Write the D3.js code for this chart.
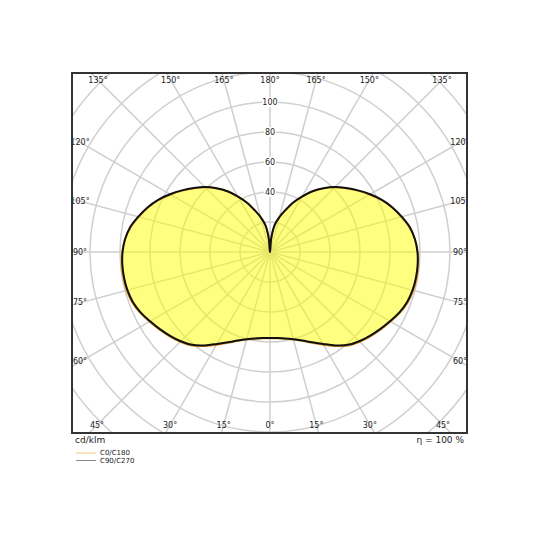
<!DOCTYPE html>
<html>
<head>
<meta charset="utf-8">
<script src="https://cdn.jsdelivr.net/npm/d3@7"></script>
<style>
  body { margin: 0; background: #fff; }
  text { font-family: "DejaVu Sans", sans-serif; }
</style>
</head>
<body>
<svg id="chart" width="540" height="540"></svg>
<script>
// Gamma angles (0 = straight down, 180 = straight up), degrees
const gammaAngles = [0, 5, 10, 15, 20, 25, 30, 35, 40, 45, 50, 55, 60, 65, 70, 75, 80, 85, 90,
  95, 100, 105, 110, 115, 120, 125, 130, 135, 140, 145, 150, 155, 160, 165, 170, 175, 180];

// Luminous intensity, cd/klm
const c0c180 = [57.5, 57.8, 58.8, 60.5, 63.2, 66.9, 71.4, 76.6, 81.4, 84.7, 87.5, 90.2, 92.9, 95.8, 97.9, 99, 99.4, 99.3, 98.6,
  97, 94.3, 90.5, 86.5, 81.9, 76.6, 71.2, 66, 61, 55.4, 49.4, 42.7, 36.3, 29.5, 24, 18.5, 9, 0];
const c90c270 = [57.3, 57.6, 58.5, 60.2, 62.8, 66.4, 70.8, 76, 80.8, 84.1, 86.9, 89.6, 92.3, 95.2, 97.3, 98.4, 98.8, 98.8, 98.3,
  97, 94.7, 90.9, 86.9, 82.3, 77, 71.6, 66.3, 61.2, 55.5, 49.4, 42.7, 36.3, 29.5, 24, 18.5, 9, 0];

// Grid
const ringValues = [20, 40, 60, 80, 100, 120, 140, 160, 180];
const ringLabels = [40, 60, 80, 100];
const spokeTicks = [0, 15, 30, 45, 60, 75, 90, 105, 120, 135, 150, 165, 180];

const seriesNames = ["C0/C180", "C90/C270"];
const unitLabel = "cd/klm";
const efficiencyLabel = "η = 100 %";

const svg = d3.select("#chart");

// plot box
const box = { left: 72, top: 73, right: 467, bottom: 433 };
const cx = 270, cy = 252;

const r = d3.scaleLinear().domain([0, 100]).range([0, 150]);

svg.append("defs").append("clipPath")
  .attr("id", "boxclip")
  .append("rect")
  .attr("x", box.left).attr("y", box.top)
  .attr("width", box.right - box.left).attr("height", box.bottom - box.top);

const plot = svg.append("g").attr("clip-path", "url(#boxclip)");
const g = plot.append("g").attr("transform", `translate(${cx},${cy})`);

// rings
g.selectAll("circle.ring")
  .data(ringValues)
  .enter().append("circle")
  .attr("class", "ring")
  .attr("r", d => r(d))
  .attr("fill", "none")
  .attr("stroke", "#cfcfcf")
  .attr("stroke-width", 1.5);

// spokes, both sides
const spokes = [];
spokeTicks.forEach(t => {
  spokes.push({ t, side: 1 });
  if (t !== 0 && t !== 180) spokes.push({ t, side: -1 });
});
const rad = Math.PI / 180;

g.selectAll("line.spoke")
  .data(spokes)
  .enter().append("line")
  .attr("class", "spoke")
  .attr("x1", 0).attr("y1", 0)
  .attr("x2", d => d.side * Math.sin(d.t * rad) * r(200))
  .attr("y2", d => Math.cos(d.t * rad) * r(200))
  .attr("stroke", "#cfcfcf")
  .attr("stroke-width", 1.5);

// curve: right half gamma 0..180, left half 175..5
function curvePoints(values) {
  const pts = gammaAngles.map((gm, i) => [Math.PI - gm * rad, r(values[i])]);
  for (let i = gammaAngles.length - 2; i >= 1; i--) {
    pts.push([Math.PI + gammaAngles[i] * rad, r(values[i])]);
  }
  return pts;
}

const radial = d3.lineRadial()
  .angle(d => d[0])
  .radius(d => d[1])
  .curve(d3.curveCatmullRomClosed.alpha(0.5));

g.append("path")
  .attr("d", radial(curvePoints(c90c270)))
  .attr("fill", "#ffff00")
  .attr("fill-opacity", 0.5)
  .attr("stroke", "none");

g.append("path")
  .attr("d", radial(curvePoints(c0c180)))
  .attr("fill", "none")
  .attr("stroke", "#e39a28")
  .attr("stroke-width", 1.8);

g.append("path")
  .attr("d", radial(curvePoints(c90c270)))
  .attr("fill", "none")
  .attr("stroke", "#111")
  .attr("stroke-width", 2);

// ring value labels
const rl = g.selectAll("g.rlabel")
  .data(ringLabels)
  .enter().append("g")
  .attr("class", "rlabel")
  .attr("transform", d => `translate(0,${-r(d)})`);
rl.append("rect")
  .attr("x", d => d >= 100 ? -8 : -6).attr("y", -5)
  .attr("width", d => d >= 100 ? 16 : 12).attr("height", 10)
  .attr("fill", "#fff");
rl.append("text")
  .attr("text-anchor", "middle")
  .attr("dominant-baseline", "central")
  .attr("font-size", 8)
  .attr("fill", "#222")
  .text(d => d);

// angle labels along the spokes, just inside the box
const inset = { left: 80, right: 460, top: 80, bottom: 425 };
function labelPos(d) {
  const sx = d.side * Math.sin(d.t * rad);
  const sy = Math.cos(d.t * rad);
  let t = Infinity;
  if (sy < -1e-6) t = Math.min(t, (cy - inset.top) / -sy);
  if (sy > 1e-6) t = Math.min(t, (inset.bottom - cy) / sy);
  if (sx < -1e-6) t = Math.min(t, (cx - inset.left) / -sx);
  if (sx > 1e-6) t = Math.min(t, (inset.right - cx) / sx);
  return [cx + sx * t, cy + sy * t];
}

plot.selectAll("text.alabel")
  .data(spokes)
  .enter().append("text")
  .attr("class", "alabel")
  .attr("x", d => labelPos(d)[0])
  .attr("y", d => labelPos(d)[1])
  .attr("text-anchor", "middle")
  .attr("dominant-baseline", "central")
  .attr("font-size", 8)
  .attr("fill", "#222")
  .text(d => d.t + "°");

// frame
svg.append("rect")
  .attr("x", box.left).attr("y", box.top)
  .attr("width", box.right - box.left).attr("height", box.bottom - box.top)
  .attr("fill", "none")
  .attr("stroke", "#333")
  .attr("stroke-width", 2);

// footer texts
svg.append("text")
  .attr("x", 75).attr("y", 443)
  .attr("font-size", 9).attr("fill", "#222")
  .text(unitLabel);
svg.append("text")
  .attr("x", 464).attr("y", 443)
  .attr("text-anchor", "end")
  .attr("font-size", 9).attr("fill", "#222")
  .text(efficiencyLabel);

// legend
const legendColors = ["#f5c67a", "#888"];
const lg = svg.selectAll("g.legend")
  .data(seriesNames)
  .enter().append("g")
  .attr("class", "legend")
  .attr("transform", (d, i) => `translate(76,${453 + i * 7.5})`);
lg.append("line")
  .attr("x1", 0).attr("x2", 20)
  .attr("stroke", (d, i) => legendColors[i])
  .attr("stroke-width", 1);
lg.append("text")
  .attr("x", 24)
  .attr("dominant-baseline", "central")
  .attr("font-size", 7)
  .attr("fill", "#222")
  .text(d => d);
</script>
</body>
</html>
